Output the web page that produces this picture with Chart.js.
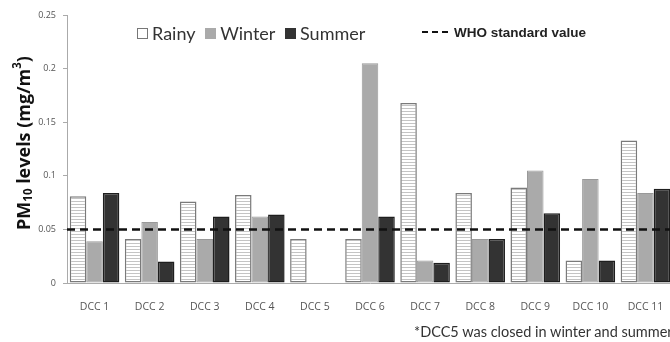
<!DOCTYPE html>
<html>
<head>
<meta charset="utf-8">
<script src="https://cdn.jsdelivr.net/npm/chart.js@4/dist/chart.umd.min.js"></script>
<style>
  html, body { margin: 0; padding: 0; background: #fff; width: 670px; height: 342px; overflow: hidden; }
  #wrap { position: relative; width: 670px; height: 342px; overflow: hidden; }
  #myChart { position: absolute; left: 0; top: 0; }
  .lg { position: absolute; top: 22px; left: 137px; font-family: Lato, "Open Sans", sans-serif; font-size: 18px; color: #333; white-space: nowrap; }
  .lg span.box { display: inline-block; width: 11px; height: 11px; margin-right: 4px; vertical-align: 1px; box-sizing: border-box; }
  .lg span.item { margin-right: 5px; }
  .who { position: absolute; top: 25px; left: 422px; font-family: "Liberation Sans", Arial, sans-serif; font-weight: bold; font-size: 13.5px; color: #222; white-space: nowrap; }
  .who span.dash { display: inline-block; width: 26px; border-top: 2.5px dashed #111; vertical-align: 4px; margin-right: 6px; }
  .note { position: absolute; top: 323px; left: 414px; font-family: Lato, "Open Sans", sans-serif; font-size: 14.5px; color: #333; white-space: nowrap; }
</style>
</head>
<body>
<div id="wrap">
  <canvas id="myChart" width="680" height="342"></canvas>
  <div class="lg">
    <span class="item"><span class="box" style="border:1px solid #777;background:#fff"></span>Rainy</span>
    <span class="item"><span class="box" style="background:#aaa"></span>Winter</span>
    <span class="item"><span class="box" style="background:#333"></span>Summer</span>
  </div>
  <div class="who"><span class="dash"></span>WHO standard value</div>
  <div class="note">*DCC5 was closed in winter and summer</div>
</div>
<script>
"use strict";
const labels = ["DCC 1", "DCC 2", "DCC 3", "DCC 4", "DCC 5", "DCC 6", "DCC 7", "DCC 8", "DCC 9", "DCC 10", "DCC 11"];
const rainy = [0.081, 0.041, 0.076, 0.082, 0.041, 0.041, 0.168, 0.084, 0.089, 0.021, 0.133];
const winter = [0.039, 0.057, 0.041, 0.062, null, 0.205, 0.021, 0.041, 0.105, 0.097, 0.084];
const summer = [0.084, 0.020, 0.062, 0.064, null, 0.062, 0.019, 0.041, 0.065, 0.021, 0.088];
const yTicks = [0, 0.05, 0.1, 0.15, 0.2, 0.25];
const whoLimit = 0.05;

const ctx = document.getElementById("myChart").getContext("2d");

// horizontal line hatch for the rainy bars
const pc = document.createElement("canvas");
pc.width = 4;
pc.height = 3;
const pctx = pc.getContext("2d");
pctx.fillStyle = "#fff";
pctx.fillRect(0, 0, 4, 3);
pctx.fillStyle = "#c4c4c4";
pctx.fillRect(0, 0, 4, 1);
const hatch = ctx.createPattern(pc, "repeat");

const whoLine = {
  id: "whoLine",
  afterDatasetsDraw(chart) {
    const y = chart.scales.y.getPixelForValue(whoLimit);
    const c = chart.ctx;
    c.save();
    c.strokeStyle = "#111";
    c.lineWidth = 2.5;
    c.setLineDash([8, 5]);
    c.beginPath();
    c.moveTo(chart.chartArea.left, y);
    c.lineTo(chart.chartArea.right, y);
    c.stroke();
    c.restore();
  },
};

// y title with sub/superscript
const yTitle = {
  id: "yTitle",
  afterDraw(chart) {
    const c = chart.ctx;
    const parts = [
      { t: "PM", size: 18, dy: 0 },
      { t: "10", size: 11.5, dy: 4 },
      { t: " levels (mg/m", size: 18, dy: 0 },
      { t: "3", size: 11.5, dy: -7 },
      { t: ")", size: 18, dy: 0 },
    ];
    c.save();
    c.translate(25, 143);
    c.rotate(-Math.PI / 2);
    c.fillStyle = "#111";
    c.textBaseline = "middle";
    let total = 0;
    parts.forEach((p) => {
      c.font = "bold " + p.size + "px 'Open Sans', sans-serif";
      total += c.measureText(p.t).width;
    });
    let x = -total / 2;
    parts.forEach((p) => {
      c.font = "bold " + p.size + "px 'Open Sans', sans-serif";
      c.fillText(p.t, x, p.dy);
      x += c.measureText(p.t).width;
    });
    c.restore();
  },
};

const data = {
  labels: labels,
  datasets: [
    {
      label: "Rainy",
      data: rainy,
      backgroundColor: hatch,
      borderColor: "#7a7a7a",
      borderWidth: 1.5,
      borderSkipped: false,
    },
    {
      label: "Winter",
      data: winter,
      backgroundColor: "#aaa",
      borderColor: "#999",
      borderWidth: 1,
      borderSkipped: false,
    },
    {
      label: "Summer",
      data: summer,
      backgroundColor: "#333",
      borderColor: "#1e1e1e",
      borderWidth: 1.5,
      borderSkipped: false,
    },
  ],
};

const config = {
  type: "bar",
  data: data,
  options: {
    responsive: false,
    animation: false,
    devicePixelRatio: 1,
    categoryPercentage: 0.9,
    barPercentage: 1,
    layout: { padding: { top: 15, right: 7, left: 0, bottom: 0 } },
    plugins: {
      legend: { display: false },
      tooltip: { enabled: false },
    },
    scales: {
      x: {
        grid: { display: false },
        border: { display: true, color: "#aaa" },
        ticks: {
          color: "#555",
          font: { family: "'Open Sans', sans-serif", size: 10.5 },
          padding: 10,
          maxRotation: 0,
          autoSkip: false,
        },
        afterFit(scale) {
          scale.height = 59;
        },
      },
      y: {
        min: 0,
        max: 0.25,
        afterBuildTicks(scale) {
          scale.ticks = yTicks.map((v) => ({ value: v }));
        },
        grid: { drawOnChartArea: false, drawTicks: true, tickLength: 4, color: "#aaa" },
        border: { display: true, color: "#aaa" },
        ticks: {
          color: "#555",
          font: { family: "'Open Sans', sans-serif", size: 9 },
          padding: 7,
          callback: function (val) {
            return String(+val.toFixed(2));
          },
        },
        afterFit(scale) {
          scale.width = 67;
        },
      },
    },
  },
  plugins: [whoLine, yTitle],
};

const myChart = new Chart(ctx, config);
</script>
</body>
</html>
